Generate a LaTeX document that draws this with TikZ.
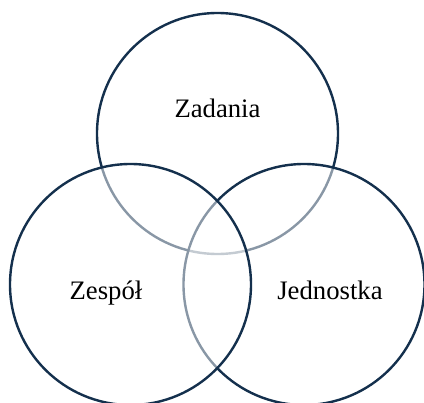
\documentclass[tikz,border=0pt]{standalone}
\usepackage{fontspec}
\setmainfont{Liberation Serif}
\definecolor{ringnavy}{RGB}{20,48,77}
\begin{document}
\begin{tikzpicture}[x=1pt,y=-1pt,
  ring/.style={circle,draw=ringnavy,line width=2.4pt,fill=white,fill opacity=0.5,
               draw opacity=1,inner sep=0pt,minimum size=241pt},
  lbl/.style={font=\fontsize{26.7}{30}\selectfont,anchor=base,inner sep=0pt,text=black}]
  \useasboundingbox (0,0) rectangle (424,403);
  % three overlapping rings; later ones wash out the earlier outlines beneath them
  \node[ring] (zadania) at (217.5,133.5) {};
  \node[ring] (jednostka) at (304,284.5) {};
  \node[ring] (zespol) at (130.5,284.5) {};
  % labels
  \node[lbl] (tz) at (217.5,118) {Zadania};
  \node[lbl] (ts) at (106,300) {Zespół};
  \node[lbl] (tj) at (330,300) {Jednostka};
\end{tikzpicture}
\end{document}
